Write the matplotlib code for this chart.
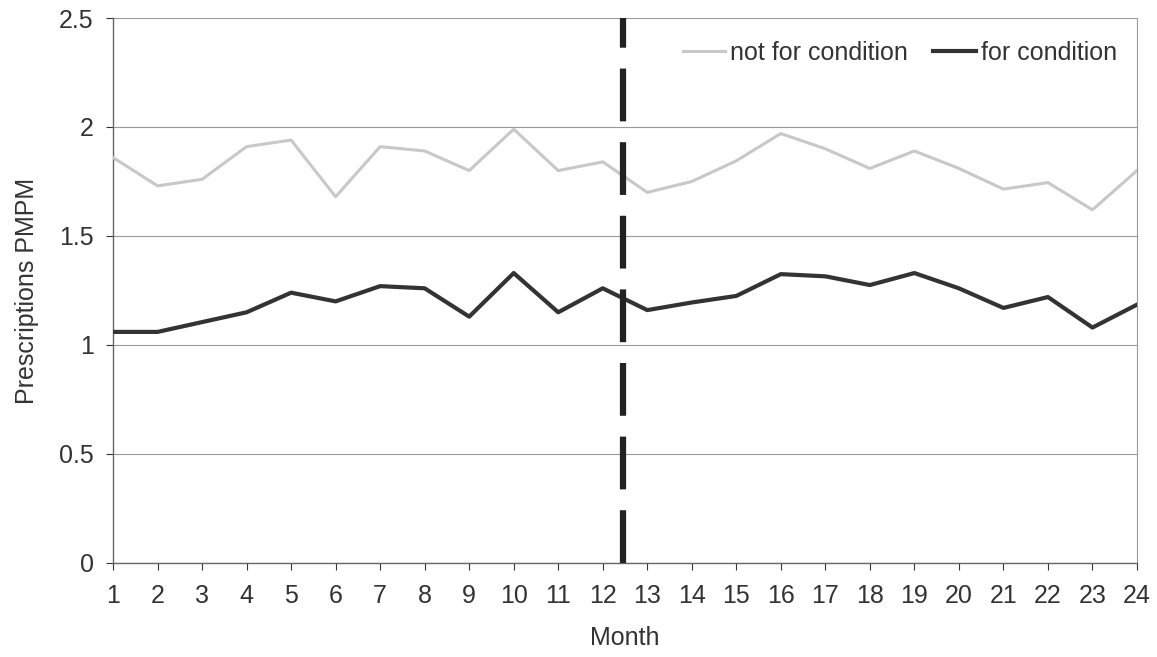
import matplotlib
matplotlib.use('Agg')
import matplotlib.pyplot as plt

plt.rcParams['font.family'] = ['Liberation Sans', 'DejaVu Sans']
plt.rcParams['lines.scale_dashes'] = False

# Datos
months = list(range(1, 25))
not_for_condition = [1.86, 1.73, 1.76, 1.91, 1.94, 1.68, 1.91, 1.89, 1.80, 1.99, 1.80, 1.84,
                     1.70, 1.75, 1.845, 1.97, 1.90, 1.81, 1.89, 1.81, 1.715, 1.745, 1.62, 1.80]
for_condition = [1.06, 1.06, 1.105, 1.15, 1.24, 1.20, 1.27, 1.26, 1.13, 1.33, 1.15, 1.26,
                 1.16, 1.195, 1.225, 1.325, 1.315, 1.275, 1.33, 1.26, 1.17, 1.22, 1.08, 1.185]
cutoff = 12.45
y_ticks = [0, 0.5, 1, 1.5, 2, 2.5]
y_tick_labels = ['0', '0.5', '1', '1.5', '2', '2.5']

fig = plt.figure(figsize=(11.57, 6.57), dpi=100)
ax = fig.add_axes([0.0977, 0.1431, 0.8850, 0.8295])

ax.plot(months, not_for_condition, color='#c8c8c8', lw=2.2, label='not for condition', zorder=3)
ax.plot(months, for_condition, color='#333333', lw=3.0, label='for condition', zorder=3)
ax.axvline(cutoff, color='#222222', lw=4.5, dashes=(38, 15), zorder=4)

ax.set_xlim(1, 24)
ax.set_ylim(0, 2.5)
ax.set_xticks(months)
ax.set_xticklabels([str(m) for m in months])
ax.set_yticks(y_ticks)
ax.set_yticklabels(y_tick_labels)
ax.grid(axis='y', color='#999999', lw=0.8)
ax.set_axisbelow(True)

for s in ['left', 'bottom']:
    ax.spines[s].set_color('#666666')
    ax.spines[s].set_linewidth(1.0)
ax.spines['top'].set_visible(False)
ax.spines['right'].set_color('#999999')
ax.spines['right'].set_linewidth(0.8)

ax.tick_params(axis='both', labelsize=18, colors='#333333', length=5, width=0.8, direction='out')
ax.tick_params(axis='x', pad=10)
ax.tick_params(axis='y', pad=9)

ax.set_xlabel('Month', fontsize=18, color='#333333', labelpad=13)
ax.set_ylabel('Prescriptions PMPM', fontsize=18, color='#333333', labelpad=14)

leg = ax.legend(loc='upper right', ncol=2, frameon=False, fontsize=18, handlelength=1.7,
                handletextpad=0.2, columnspacing=1.0, bbox_to_anchor=(0.995, 0.985),
                borderaxespad=0.2)
for t in leg.get_texts():
    t.set_color('#333333')

plt.savefig('out.png', dpi=100)
plt.close()
